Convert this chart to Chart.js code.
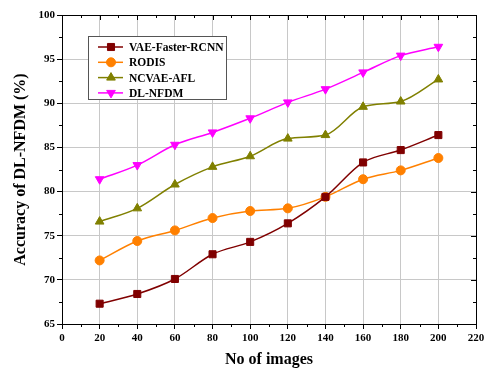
<!DOCTYPE html>
<html lang="en">
<head>
<meta charset="UTF-8">
<title>Accuracy of DL-NFDM</title>
<style>
  body { margin: 0; background: #fff; }
  #chart { display: block; }
</style>
</head>
<body>
<canvas id="chart" width="485" height="373"></canvas>
<script src="https://cdn.jsdelivr.net/npm/chart.js"></script>
<script>
// data
const images = [20, 40, 60, 80, 100, 120, 140, 160, 180, 200];
const vaeFasterRcnn = [67.3, 68.4, 70.1, 72.9, 74.3, 76.4, 79.4, 83.3, 84.7, 86.4];
const rodis = [72.2, 74.4, 75.6, 77.0, 77.8, 78.1, 79.4, 81.4, 82.4, 83.8];
const ncvaeAfl = [76.6, 78.1, 80.8, 82.8, 84.0, 86.0, 86.4, 89.6, 90.2, 92.7];
const dlNfdm = [81.4, 83.0, 85.3, 86.7, 88.3, 90.1, 91.6, 93.5, 95.4, 96.4];

const serif = '"Liberation Serif", "Times New Roman", serif';

function pts(arr) {
  return images.map((x, i) => ({ x: x, y: arr[i] }));
}

function series(label, arr, color, style, rot) {
  return {
    label: label,
    data: pts(arr),
    borderColor: color,
    backgroundColor: color,
    borderWidth: 1.5,
    pointStyle: style,
    pointRotation: rot || 0,
    pointRadius: style === 'circle' ? 4.5 : 5,
    pointBorderWidth: 1,
    tension: 0.35,
    cubicInterpolationMode: 'monotone'
  };
}

// minor ticks, mirrored ticks on top/right, legend box inside the plot
const extras = {
  id: 'extras',
  afterDraw(chart) {
    const ctx = chart.ctx;
    const a = chart.chartArea;
    const xs = chart.scales.x, ys = chart.scales.y;
    ctx.save();
    ctx.strokeStyle = '#000';
    ctx.lineWidth = 1;
    ctx.beginPath();
    for (let v = 0; v <= 220; v += 10) {
      const px = Math.round(xs.getPixelForValue(v)) + 0.5;
      const len = v % 20 === 0 ? 5 : 3;
      if (v % 20 !== 0) { ctx.moveTo(px, a.bottom); ctx.lineTo(px, a.bottom + len); }
      ctx.moveTo(px, a.top); ctx.lineTo(px, a.top + len);
    }
    for (let v = 65; v <= 100; v += 2.5) {
      const py = Math.round(ys.getPixelForValue(v)) + 0.5;
      const major = Math.abs(v % 5) < 0.01;
      const len = major ? 5 : 3;
      if (!major) { ctx.moveTo(a.left, py); ctx.lineTo(a.left - len, py); }
      ctx.moveTo(a.right, py); ctx.lineTo(a.right - len, py);
    }
    ctx.stroke();
    ctx.strokeRect(a.left + 0.5, a.top + 0.5, a.right - a.left, a.bottom - a.top);

    // legend
    const bx = 88, by = 36, bw = 138, bh = 63;
    ctx.fillStyle = '#fff';
    ctx.fillRect(bx, by, bw, bh);
    ctx.strokeStyle = '#555';
    ctx.strokeRect(bx + 0.5, by + 0.5, bw, bh);
    ctx.font = 'bold 11.5px ' + serif;
    ctx.textBaseline = 'middle';
    chart.data.datasets.forEach((ds, i) => {
      const y = by + 11 + i * 15.3;
      ctx.strokeStyle = ds.borderColor;
      ctx.lineWidth = 1.5;
      ctx.beginPath();
      ctx.moveTo(98, y); ctx.lineTo(123, y);
      ctx.stroke();
      ctx.fillStyle = ds.backgroundColor;
      ctx.lineWidth = 1;
      Chart.helpers.drawPoint(ctx, {
        pointStyle: ds.pointStyle, rotation: ds.pointRotation,
        radius: ds.pointRadius, borderWidth: 1
      }, 111, y);
      ctx.fillStyle = '#000';
      ctx.fillText(ds.label, 129, y + 1);
    });
    ctx.restore();
  }
};

new Chart(document.getElementById('chart'), {
  type: 'line',
  data: {
    datasets: [
      series('VAE-Faster-RCNN', vaeFasterRcnn, '#800000', 'rect'),
      series('RODIS', rodis, '#ff8000', 'circle'),
      series('NCVAE-AFL', ncvaeAfl, '#808000', 'triangle'),
      series('DL-NFDM', dlNfdm, '#ff00ff', 'triangle', 180)
    ]
  },
  options: {
    responsive: false,
    animation: false,
    layout: { padding: { top: 15, right: 9, left: 0, bottom: 0 } },
    plugins: { legend: { display: false }, tooltip: { enabled: false } },
    scales: {
      x: {
        type: 'linear',
        min: 0, max: 220,
        afterFit(s) { s.height = 49; s.paddingLeft = 0; s.paddingRight = 0; },
        ticks: {
          stepSize: 20, color: '#000', padding: 3,
          font: { family: serif, weight: 'bold', size: 11 }
        },
        grid: { color: '#c8c8c8', tickColor: '#000', tickLength: 5 },
        border: { color: '#000' },
        title: {
          display: true, text: 'No of images', color: '#000',
          font: { family: serif, weight: 'bold', size: 16 },
          padding: { top: 0, bottom: 4 }
        }
      },
      y: {
        min: 65, max: 100,
        afterFit(s) { s.width = 62; s.paddingTop = 0; s.paddingBottom = 0; },
        ticks: {
          stepSize: 5, color: '#000', padding: 2,
          font: { family: serif, weight: 'bold', size: 11 }
        },
        grid: { color: '#c8c8c8', tickColor: '#000', tickLength: 5 },
        border: { color: '#000' },
        title: {
          display: true, text: 'Accuracy of DL-NFDM (%)', color: '#000',
          font: { family: serif, weight: 'bold', size: 16 },
          padding: { top: 11, bottom: 0 }
        }
      }
    }
  },
  plugins: [extras]
});
</script>
</body>
</html>
